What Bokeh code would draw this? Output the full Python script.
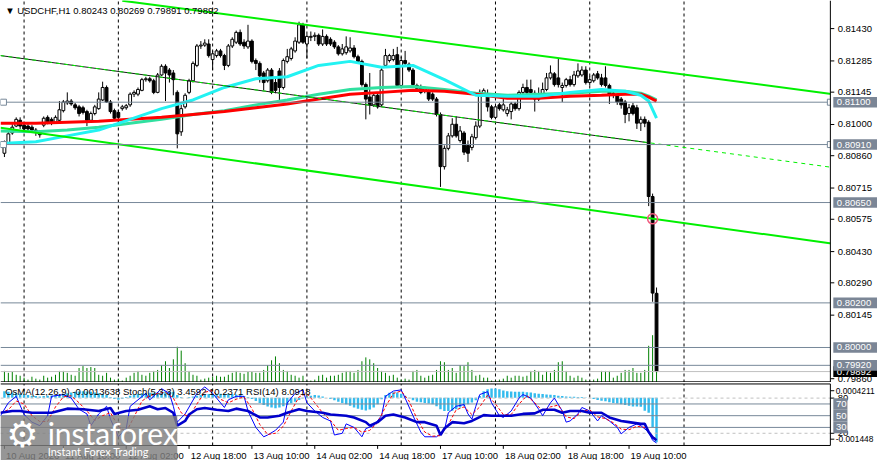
from bokeh.plotting import figure
from bokeh.models import Range1d
from bokeh.layouts import column
from bokeh.embed import file_html
from bokeh.resources import INLINE
from bokeh.core.properties import value

FONT = "Liberation Sans"

symbol = "USDCHF,H1"

opens = [
    0.80871, 0.80919, 0.80962, 0.80993, 0.81019, 0.80997, 0.80993, 0.80988, 0.80975, 0.80967,
    0.80997, 0.81032, 0.81023, 0.81010, 0.81019, 0.81062, 0.81097, 0.81105, 0.81088, 0.81079,
    0.81075, 0.81058, 0.81019, 0.81049, 0.81071, 0.81110, 0.81166, 0.81101, 0.81062, 0.81054,
    0.81071, 0.81075, 0.81088, 0.81136, 0.81136, 0.81153, 0.81201, 0.81205, 0.81196, 0.81144,
    0.81222, 0.81261, 0.81244, 0.81231, 0.81144, 0.80967, 0.81079, 0.81144, 0.81196, 0.81265,
    0.81352, 0.81356, 0.81361, 0.81291, 0.81309, 0.81330, 0.81309, 0.81265, 0.81352, 0.81369,
    0.81413, 0.81369, 0.81348, 0.81374, 0.81287, 0.81274, 0.81231, 0.81196, 0.81244, 0.81188,
    0.81240, 0.81166, 0.81283, 0.81296, 0.81330, 0.81369, 0.81447, 0.81361, 0.81391, 0.81395,
    0.81400, 0.81361, 0.81395, 0.81382, 0.81369, 0.81348, 0.81317, 0.81322, 0.81330, 0.81343,
    0.81304, 0.81283, 0.81179, 0.81123, 0.81088, 0.81131, 0.81088, 0.81265, 0.81287, 0.81291,
    0.81313, 0.81175, 0.81287, 0.81270, 0.81244, 0.81175, 0.81166, 0.81153, 0.81149, 0.81136,
    0.81114, 0.81045, 0.80811, 0.80893, 0.80949, 0.81001, 0.80928, 0.80962, 0.80906, 0.80897,
    0.80941, 0.80993, 0.81136, 0.81131, 0.81079, 0.81032, 0.81088, 0.81066, 0.81049, 0.81058,
    0.81092, 0.81071, 0.81144, 0.81166, 0.81157, 0.81140, 0.81114, 0.81136, 0.81157, 0.81209,
    0.81227, 0.81209, 0.81166, 0.81175, 0.81201, 0.81179, 0.81218, 0.81222, 0.81244, 0.81188,
    0.81196, 0.81227, 0.81209, 0.81209, 0.81175, 0.81140, 0.81131, 0.81114, 0.81101, 0.81049,
    0.81084, 0.81075, 0.81006, 0.81023, 0.81010, 0.80677, 0.80243]

highs = [
    0.80928, 0.80971, 0.81001, 0.81032, 0.81032, 0.81006, 0.81001, 0.80997, 0.80984, 0.80975,
    0.81036, 0.81041, 0.81032, 0.81041, 0.81105, 0.81110, 0.81144, 0.81114, 0.81097, 0.81088,
    0.81084, 0.81066, 0.81058, 0.81088, 0.81144, 0.81192, 0.81175, 0.81110, 0.81071, 0.81066,
    0.81088, 0.81092, 0.81144, 0.81153, 0.81166, 0.81209, 0.81214, 0.81214, 0.81205, 0.81231,
    0.81270, 0.81270, 0.81253, 0.81244, 0.81153, 0.81088, 0.81140, 0.81205, 0.81283, 0.81361,
    0.81374, 0.81382, 0.81382, 0.81330, 0.81339, 0.81339, 0.81317, 0.81361, 0.81391, 0.81421,
    0.81426, 0.81382, 0.81447, 0.81382, 0.81296, 0.81283, 0.81240, 0.81253, 0.81253, 0.81209,
    0.81253, 0.81296, 0.81339, 0.81348, 0.81391, 0.81461, 0.81456, 0.81404, 0.81417, 0.81413,
    0.81408, 0.81426, 0.81404, 0.81391, 0.81378, 0.81356, 0.81361, 0.81395, 0.81391, 0.81356,
    0.81313, 0.81291, 0.81188, 0.81231, 0.81140, 0.81140, 0.81253, 0.81339, 0.81317, 0.81339,
    0.81348, 0.81304, 0.81330, 0.81278, 0.81253, 0.81183, 0.81179, 0.81170, 0.81157, 0.81144,
    0.81123, 0.81054, 0.80906, 0.80962, 0.81028, 0.81036, 0.80993, 0.80971, 0.80928, 0.80958,
    0.81014, 0.81157, 0.81162, 0.81157, 0.81088, 0.81088, 0.81097, 0.81123, 0.81079, 0.81101,
    0.81101, 0.81153, 0.81183, 0.81201, 0.81201, 0.81153, 0.81166, 0.81188, 0.81231, 0.81265,
    0.81235, 0.81296, 0.81188, 0.81209, 0.81218, 0.81240, 0.81274, 0.81261, 0.81261, 0.81218,
    0.81231, 0.81240, 0.81227, 0.81261, 0.81183, 0.81149, 0.81140, 0.81123, 0.81110, 0.81092,
    0.81097, 0.81088, 0.81036, 0.81036, 0.81019, 0.80690, 0.80269]

lows = [
    0.80854, 0.80910, 0.80954, 0.80988, 0.80980, 0.80971, 0.80967, 0.80962, 0.80949, 0.80941,
    0.80988, 0.81001, 0.80997, 0.81006, 0.81010, 0.81054, 0.81088, 0.81084, 0.81066, 0.81036,
    0.81045, 0.80993, 0.81010, 0.81041, 0.81066, 0.81105, 0.81097, 0.81049, 0.81019, 0.81010,
    0.81062, 0.81066, 0.81079, 0.81123, 0.81127, 0.81149, 0.81192, 0.81188, 0.81136, 0.81140,
    0.81218, 0.81105, 0.81188, 0.81131, 0.80893, 0.80949, 0.81071, 0.81136, 0.81188, 0.81257,
    0.81339, 0.81348, 0.81300, 0.81244, 0.81300, 0.81300, 0.81244, 0.81257, 0.81343, 0.81361,
    0.81352, 0.81339, 0.81339, 0.81274, 0.81244, 0.81188, 0.81153, 0.81188, 0.81136, 0.81140,
    0.81110, 0.81157, 0.81274, 0.81287, 0.81322, 0.81361, 0.81361, 0.81296, 0.81374, 0.81374,
    0.81352, 0.81352, 0.81352, 0.81352, 0.81339, 0.81309, 0.81309, 0.81313, 0.81322, 0.81296,
    0.81274, 0.81170, 0.81023, 0.81045, 0.81079, 0.81071, 0.81079, 0.81257, 0.81278, 0.81283,
    0.81166, 0.81166, 0.81265, 0.81235, 0.81170, 0.81153, 0.81136, 0.81140, 0.81105, 0.81105,
    0.81036, 0.80720, 0.80798, 0.80884, 0.80941, 0.80941, 0.80919, 0.80863, 0.80832, 0.80884,
    0.80932, 0.80984, 0.81127, 0.81058, 0.81023, 0.81023, 0.81062, 0.81058, 0.81036, 0.81023,
    0.81062, 0.81062, 0.81136, 0.81136, 0.81136, 0.81058, 0.81105, 0.81127, 0.81149, 0.81201,
    0.81170, 0.81166, 0.81101, 0.81166, 0.81170, 0.81170, 0.81209, 0.81214, 0.81179, 0.81175,
    0.81188, 0.81201, 0.81170, 0.81166, 0.81092, 0.81118, 0.81088, 0.81071, 0.81006, 0.81014,
    0.81041, 0.80980, 0.80971, 0.80988, 0.80634, 0.80205, 0.79891]

closes = [
    0.80915, 0.80958, 0.80988, 0.81023, 0.80993, 0.80980, 0.80980, 0.80975, 0.80967, 0.80954,
    0.81028, 0.81006, 0.81006, 0.81032, 0.81066, 0.81101, 0.81105, 0.81092, 0.81075, 0.81049,
    0.81054, 0.81019, 0.81049, 0.81079, 0.81114, 0.81166, 0.81101, 0.81058, 0.81028, 0.81032,
    0.81079, 0.81084, 0.81136, 0.81144, 0.81157, 0.81201, 0.81205, 0.81196, 0.81144, 0.81222,
    0.81261, 0.81231, 0.81222, 0.81201, 0.80958, 0.81071, 0.81131, 0.81196, 0.81274, 0.81352,
    0.81356, 0.81365, 0.81309, 0.81317, 0.81330, 0.81309, 0.81265, 0.81352, 0.81382, 0.81413,
    0.81361, 0.81352, 0.81374, 0.81283, 0.81274, 0.81218, 0.81188, 0.81244, 0.81144, 0.81153,
    0.81166, 0.81287, 0.81304, 0.81339, 0.81374, 0.81447, 0.81369, 0.81395, 0.81395, 0.81400,
    0.81361, 0.81395, 0.81361, 0.81361, 0.81348, 0.81317, 0.81339, 0.81348, 0.81343, 0.81304,
    0.81283, 0.81179, 0.81114, 0.81088, 0.81131, 0.81079, 0.81244, 0.81309, 0.81309, 0.81309,
    0.81175, 0.81287, 0.81274, 0.81244, 0.81179, 0.81162, 0.81144, 0.81162, 0.81114, 0.81114,
    0.81045, 0.80811, 0.80893, 0.80949, 0.81001, 0.80949, 0.80971, 0.80876, 0.80871, 0.80945,
    0.80993, 0.81144, 0.81153, 0.81079, 0.81032, 0.81079, 0.81071, 0.81088, 0.81066, 0.81092,
    0.81071, 0.81144, 0.81166, 0.81144, 0.81144, 0.81114, 0.81136, 0.81157, 0.81209, 0.81231,
    0.81179, 0.81179, 0.81175, 0.81201, 0.81179, 0.81222, 0.81240, 0.81244, 0.81188, 0.81201,
    0.81222, 0.81209, 0.81179, 0.81175, 0.81136, 0.81131, 0.81101, 0.81088, 0.81045, 0.81075,
    0.81049, 0.81006, 0.81023, 0.81006, 0.80677, 0.80244, 0.79892]

volumes = [
    1200, 1000, 1100, 800, 700, 500, 300, 600, 400, 300,
    700, 500, 600, 800, 1200, 1200, 1000, 800, 700, 1500,
    1700, 1500, 1600, 1500, 800, 700, 1000, 500, 300, 400,
    200, 500, 700, 1000, 1200, 800, 700, 1000, 1200, 1300,
    1800, 2200, 1500, 2400, 3700, 3300, 2000, 1200, 800, 700,
    300, 400, 500, 600, 700, 600, 600, 800, 1000, 1200,
    1000, 900, 1100, 1100, 1000, 1000, 1300, 1800, 2300, 2700,
    2000, 1300, 1200, 800, 700, 500, 700, 200, 200, 300,
    700, 800, 500, 700, 700, 800, 1000, 1200, 1200, 1000,
    1300, 2200, 2600, 2400, 2000, 1500, 1200, 1000, 700,
    800, 500, 300, 400, 300, 1200, 1300, 700, 500, 700,
    800, 1300, 2200, 2100, 1300, 1500, 1000, 1800, 1700, 2100,
    1300, 700, 800, 500, 500, 200, 200, 300, 400, 700,
    500, 700, 700, 600, 700, 1200, 1300, 1200, 800, 1200,
    1000, 1300, 2100, 2200, 1200, 700, 500, 700, 500, 300,
    200, 300, 400, 1200, 1200, 1200, 500, 700, 1000, 1300,
    1300, 1500, 1000, 1000, 1300, 3800, 4900, 3500]

# moving averages at these bars
ma_bar = [-1, 8, 16, 24, 32, 40, 48, 56, 64, 72, 80, 88, 96, 104, 112, 120, 128, 136, 144, 152, 158, 162, 164, 166]
ma_fast = [0.80915, 0.80923, 0.80949, 0.80975, 0.81023, 0.81071, 0.81110, 0.81166, 0.81205, 0.81214, 0.81265, 0.81283,
           0.81257, 0.81265, 0.81201, 0.81131, 0.81127, 0.81127, 0.81144, 0.81157, 0.81149, 0.81131, 0.81105, 0.81028]
ma_mid = [0.80971, 0.80967, 0.80975, 0.80988, 0.81006, 0.81023, 0.81045, 0.81062, 0.81088, 0.81110, 0.81136, 0.81157,
          0.81166, 0.81170, 0.81157, 0.81140, 0.81131, 0.81136, 0.81140, 0.81149, 0.81149, 0.81140, 0.81127, 0.81110]
ma_slow = [0.81006, 0.81006, 0.81010, 0.81014, 0.81023, 0.81032, 0.81045, 0.81058, 0.81075, 0.81092, 0.81114, 0.81136,
           0.81144, 0.81153, 0.81149, 0.81136, 0.81118, 0.81118, 0.81127, 0.81131, 0.81136, 0.81136, 0.81123, 0.81105]

# trend lines (bar, price end points)
upper_bar = [30, 211]
upper_price = [0.81555, 0.81136]
lower_bar = [-1, 211]
lower_price = [0.80985, 0.80465]
mid_bar = [-1, 211]
mid_price = [0.81309, 0.80807]
mid_solid_bar = [-1, 164]
mid_solid_price = [0.81309, 0.80918]

level_prices = [0.81100, 0.80910, 0.80650, 0.80200, 0.80000, 0.79920]
anchor_levels = [0.81100, 0.80910]
alert_bar = [165]
alert_price = [0.80577]

price_ticks = [0.81430, 0.81285, 0.81145, 0.81000, 0.80860, 0.80715, 0.80575, 0.80430, 0.80290, 0.80145, 0.79860]
sep_bars = [5, 29, 53, 77, 101, 125, 149, 173]
xlab_bars = [0, 15, 31, 47, 63, 79, 95, 111, 127, 143, 159]
xlab_text = ["10 Aug 2026", "11 Aug 10:00", "12 Aug 02:00", "12 Aug 18:00", "13 Aug 10:00", "14 Aug 02:00",
             "14 Aug 18:00", "17 Aug 10:00", "18 Aug 02:00", "18 Aug 18:00", "19 Aug 10:00"]

osma = [
    0.00020, 0.00018, 0.00016, 0.00014, 0.00012,
    0.00010, 0.00008, 0.00006, 0.00005, 0.00004, 0.00005, 0.00006, 0.00007, 0.00008, 0.00010, 0.00012,
    0.00014, 0.00016, 0.00018, 0.00019, 0.00020, 0.00019, 0.00018, 0.00016, 0.00014, 0.00012, 0.00008,
    0.00002, -0.00004, -0.00006,
    -0.00003, 0.00002, 0.00006, 0.00009, 0.00011, 0.00013, 0.00014, 0.00015, 0.00015, 0.00016,
    0.00018, 0.00020, 0.00020, 0.00018,
    0.00008, 0.00002,
    0.00000, 0.00002, 0.00004, 0.00006, 0.00008, 0.00010, 0.00011, 0.00012, 0.00012, 0.00012,
    0.00012, 0.00012, 0.00011, 0.00010, 0.00008, 0.00005, 0.00002,
    -0.00004, -0.00010, -0.00016, -0.00022, -0.00027, -0.00030, -0.00032, -0.00030,
    -0.00026, -0.00022, -0.00017, -0.00012, -0.00007, -0.00002,
    0.00003, 0.00006, 0.00008, 0.00007, 0.00004,
    0.00000, -0.00004, -0.00008, -0.00012, -0.00016, -0.00020, -0.00025, -0.00030, -0.00034, -0.00037,
    -0.00039, -0.00036, -0.00030, -0.00020,
    -0.00005, 0.00008, 0.00015,
    0.00017, 0.00016, 0.00012, 0.00006,
    -0.00002, -0.00008, -0.00012, -0.00014, -0.00016, -0.00018, -0.00020, -0.00026, -0.00035, -0.00041,
    -0.00041, -0.00040, -0.00035, -0.00030, -0.00025, -0.00020, -0.00015, -0.00008,
    0.00005,
    0.00020, 0.00026, 0.00028, 0.00028, 0.00026,
    0.00022, 0.00020, 0.00019, 0.00018, 0.00018, 0.00018, 0.00017, 0.00016,
    0.00014, 0.00012, 0.00011, 0.00010, 0.00009, 0.00008,
    0.00006, 0.00005, 0.00004, 0.00003, 0.00003, 0.00002, 0.00002, 0.00001, 0.00000,
    -0.00004, -0.00007, -0.00009, -0.00011,
    -0.00014, -0.00016, -0.00018, -0.00020,
    -0.00022, -0.00025, -0.00027, -0.00027, -0.00028,
    -0.00040, -0.00046,
    -0.00090, -0.0013638]
osma_max = 0.0004211
osma_min = -0.001448

k_bar = [-1, 1, 3, 5, 7, 9, 11, 12, 15, 17, 19, 21, 22, 24, 26, 27, 29, 31, 32, 34,
         36, 37, 40, 42, 43, 44, 46, 49, 51, 53, 56, 57, 59, 61, 62, 64, 66, 67, 69, 71,
         72, 74, 76, 77, 79, 81, 83, 84, 86, 87, 89, 91, 92, 94, 96, 97, 99, 101, 102, 104,
         106, 107, 110, 112, 113, 115, 117, 118, 119, 120, 121, 123, 124, 126, 127, 129, 131, 132, 134, 136,
         137, 139, 140, 142, 143, 144, 146, 147, 149, 151, 152, 154, 156, 157, 159, 161, 162, 164, 165, 166]
k_val = [50, 72, 83, 52, 39, 33, 50, 83, 86, 80, 61, 53, 33, 53, 66, 44, 14, 28, 66, 77,
         88, 77, 96, 88, 66, 39, 53, 88, 99, 88, 64, 77, 83, 83, 58, 30, 14, 17, 25, 39,
         72, 88, 94, 72, 58, 47, 41, 17, 20, 36, 30, 14, 28, 33, 50, 83, 92, 94, 80, 50,
         22, 14, 14, 25, 55, 66, 69, 53, 44, 66, 86, 91, 72, 50, 47, 58, 80, 86, 80, 61,
         50, 72, 80, 58, 39, 41, 53, 64, 58, 41, 50, 41, 30, 19, 30, 36, 33, 22, 8, 3.4592]
d_bar = [-1, 1, 3, 5, 7, 9, 11, 13, 15, 17, 19, 21, 23, 25, 27, 29, 31, 33, 35, 37,
         39, 41, 43, 45, 47, 49, 51, 53, 55, 57, 59, 61, 63, 65, 67, 69, 71, 73, 75, 77,
         79, 81, 83, 85, 87, 89, 91, 93, 95, 97, 99, 101, 103, 105, 107, 109, 111, 113, 115, 117,
         119, 121, 123, 125, 127, 129, 131, 133, 135, 137, 139, 141, 143, 145, 147, 149, 151, 153, 155, 157,
         159, 161, 163, 165, 166]
d_val = [55, 60, 75, 70, 50, 40, 40, 65, 82, 84, 72, 58, 42, 50, 55, 32, 22, 48, 75, 84,
         88, 90, 80, 55, 48, 70, 90, 93, 78, 72, 78, 82, 62, 35, 18, 20, 32, 58, 82, 88,
         72, 55, 42, 25, 28, 30, 22, 25, 38, 65, 88, 92, 75, 45, 22, 15, 16, 35, 60, 65,
         52, 65, 85, 70, 52, 52, 70, 84, 72, 58, 65, 68, 48, 45, 58, 60, 48, 45, 38, 27,
         26, 32, 30, 15, 10.2371]
rsi_bar = [-1, 2, 4, 7, 12, 16, 20, 24, 27, 28, 31, 34, 37, 39, 41, 43, 44, 46, 47, 49,
           51, 54, 57, 59, 62, 65, 67, 70, 72, 75, 77, 81, 83, 87, 89, 92, 93, 95, 97, 99,
           102, 105, 107, 110, 111, 112, 114, 117, 119, 122, 124, 127, 129, 132, 135, 137, 140, 142, 144, 147,
           149, 152, 154, 157, 159, 162, 163, 164, 165, 166]
rsi_val = [55, 58, 58, 55, 55, 62, 61, 58, 63, 53, 58, 60, 66, 61, 63, 55, 33, 41, 52, 61,
           63, 60, 58, 62, 58, 47, 47, 50, 55, 61, 58, 55, 52, 50, 47, 39, 33, 39, 50, 52,
           47, 39, 39, 33, 17, 28, 39, 37, 41, 51, 50, 50, 50, 53, 54, 60, 60, 55, 58, 58,
           55, 55, 47, 41, 39, 36, 36, 22, 13, 8.0918]
stoch_levels = [80, 20]
rsi_levels = [70, 50, 30]

# ---------------------------------------------------------------- layout constants (MT4 window)
CH_L, CH_R, ST_R = -1.0, 210.25, 222.25        # chart left / chart right / right strip end (bars)
TICK_X, LAB_X, BOX_X = 211.25, 212.1, 211.0
P_TOP, P_BOT = 0.81556, 0.79843                 # price window
REF_H = 395.5                                   # px of reference covered by main window
ppx = (P_TOP - P_BOT) / REF_H                   # price per reference pixel
V_TOP, V_BOT = 106.6, -26.45                    # sub window (0..100 scale) incl. date strip
vpx = 1 / 0.605
SUB_TOP, SUB_BOT = 104.1, -0.83
o_px = (osma_max - osma_min) / 63.0
O_TOP, O_BOT = osma_max + 1.5 * o_px, osma_min - 16.0 * o_px

txt = dict(text_font=value(FONT), text_font_size="9.5px", text_baseline="middle", text_align="left")

bars = list(range(len(closes)))
body_fill = ["white" if c >= o else "black" for o, c in zip(opens, closes)]

# ---------------------------------------------------------------- main window
xr = Range1d(CH_L, ST_R)
p1 = figure(frame_width=877, frame_height=382, x_range=xr, y_range=Range1d(P_BOT, P_TOP),
            output_backend="svg", toolbar_location=None, x_axis_location=None,
            y_axis_location=None, min_border=0, outline_line_color=None,
            background_fill_color="white", border_fill_color="white")
p1.grid.visible = False
p1.extra_y_ranges = {"vol": Range1d(0, 100 * REF_H)}

n_sep = len(sep_bars)
p1.segment(x0=sep_bars, y0=[P_BOT] * n_sep, x1=sep_bars, y1=[P_TOP] * n_sep,
           line_color="black", line_dash="3 3", line_width=1)

p1.segment(x0=bars, y0=[0] * len(bars), x1=bars, y1=volumes, y_range_name="vol",
           line_color="#008000", line_width=1)
p1.segment(x0=bars, y0=lows, x1=bars, y1=highs, line_color="black", line_width=1)
p1.vbar(x=bars, width=0.72, top=opens, bottom=closes, fill_color=body_fill,
        line_color="black", line_width=1)

p1.line(ma_bar, ma_mid, line_color="#30E0A0", line_width=3)
p1.line(ma_bar, ma_slow, line_color="#FF0000", line_width=3)
p1.line(ma_bar, ma_fast, line_color="#22F2F2", line_width=3)

p1.line(upper_bar, upper_price, line_color="#00F000", line_width=2)
p1.line(lower_bar, lower_price, line_color="#00F000", line_width=2)
p1.line(mid_solid_bar, mid_solid_price, line_color="#1a1a1a", line_width=1)
p1.line(mid_bar, mid_price, line_color="#00F000", line_width=1, line_dash="4 4")

n_lv = len(level_prices)
p1.segment(x0=[CH_L] * n_lv, y0=level_prices, x1=[CH_R] * n_lv, y1=level_prices,
           line_color="#778899", line_width=1)
p1.segment(x0=[CH_L], y0=[closes[-1]], x1=[CH_R], y1=[closes[-1]], line_color="#C0C0C0", line_width=1)
for lv in anchor_levels:
    p1.scatter([CH_L + 0.75, CH_R], [lv, lv], marker="square", size=6, fill_color="white",
               line_color="#778899", line_width=1)
p1.scatter(alert_bar, alert_price, marker="circle", size=10, fill_color=None,
           line_color="#F05A7E", line_width=1.5)

# price scale strip
p1.quad(left=[CH_R], right=[ST_R], bottom=[P_BOT], top=[P_TOP], fill_color="white", line_color=None)
p1.segment(x0=[CH_R], y0=[P_BOT], x1=[CH_R], y1=[P_TOP], line_color="black", line_width=1)
p1.segment(x0=[CH_L], y0=[P_BOT + 0.7 * ppx], x1=[CH_R], y1=[P_BOT + 0.7 * ppx],
           line_color="black", line_width=1)
n_t = len(price_ticks)
p1.segment(x0=[CH_R] * n_t, y0=price_ticks, x1=[TICK_X] * n_t, y1=price_ticks, line_color="black")
p1.text(x=[LAB_X] * n_t, y=price_ticks, text=[f"{t:.5f}" for t in price_ticks], text_color="black", **txt)

box_h = 5.5 * ppx
# current price box first, level boxes drawn over it (as in the terminal)
p1.quad(left=[BOX_X], right=[ST_R], bottom=[closes[-1] - box_h], top=[closes[-1] + box_h],
        fill_color="black", line_color=None)
p1.text(x=[LAB_X - 0.2], y=[closes[-1]], text=[f"{closes[-1]:.5f}"], text_color="white", **txt)
p1.quad(left=[BOX_X] * n_lv, right=[ST_R] * n_lv, bottom=[lv - box_h for lv in level_prices],
        top=[lv + box_h for lv in level_prices], fill_color="#7B8696", line_color=None)
p1.text(x=[LAB_X - 0.2] * n_lv, y=level_prices, text=[f"{lv:.5f}" for lv in level_prices],
        text_color="white", **txt)

header = f"\u25BC {symbol}  {opens[-1]:.5f} {highs[-1]:.5f} {lows[-1]:.5f} {closes[-1]:.5f}"
p1.text(x=[CH_L + 1.2], y=[P_TOP - 10 * ppx], text=[header], text_color="black", **txt)

# ---------------------------------------------------------------- sub window + date strip
p2 = figure(frame_width=877, frame_height=78, x_range=xr, y_range=Range1d(V_BOT, V_TOP),
            output_backend="svg", toolbar_location=None, x_axis_location=None,
            y_axis_location=None, min_border=0, outline_line_color=None,
            background_fill_color="white", border_fill_color="white")
p2.grid.visible = False
p2.extra_y_ranges = {"osma": Range1d(O_BOT, O_TOP)}

p2.segment(x0=sep_bars, y0=[SUB_BOT] * n_sep, x1=sep_bars, y1=[SUB_TOP] * n_sep,
           line_color="black", line_dash="3 3", line_width=1)
p2.vbar(x=bars, width=0.62, top=osma, bottom=0, y_range_name="osma",
        fill_color="#33BBEE", line_color=None)
n_s, n_r = len(stoch_levels), len(rsi_levels)
p2.segment(x0=[CH_L] * n_s, y0=stoch_levels, x1=[CH_R] * n_s, y1=stoch_levels,
           line_color="#C0C0C0", line_dash="3 3", line_width=1)
p2.segment(x0=[CH_L] * n_r, y0=rsi_levels, x1=[CH_R] * n_r, y1=rsi_levels,
           line_color="#778899", line_width=1)

p2.line(k_bar, k_val, line_color="#0000FF", line_width=1)
p2.line(d_bar, d_val, line_color="#FF0000", line_width=1, line_dash="3 2")
p2.line(rsi_bar, rsi_val, line_color="#0000CC", line_width=2.6)

# frame of sub window
p2.quad(left=[CH_R], right=[ST_R], bottom=[V_BOT], top=[V_TOP], fill_color="white", line_color=None)
p2.quad(left=[CH_L], right=[CH_R], bottom=[V_BOT], top=[SUB_BOT], fill_color="white", line_color=None)
p2.segment(x0=[CH_L, CH_L, CH_R], y0=[SUB_TOP, SUB_BOT, SUB_BOT], x1=[CH_R, CH_R, CH_R],
           y1=[SUB_TOP, SUB_BOT, SUB_TOP], line_color="black", line_width=1)

legend = (f"OsMA(12,26,9) {osma[-1]:.7f}  Stoch(5,3,3) {k_val[-1]:.4f} {d_val[-1]:.4f}  "
          f"RSI(14) {rsi_val[-1]:.4f}")
p2.text(x=[CH_L + 1.2], y=[91], text=[legend], text_color="black", **txt)

# right scale of sub window
sub_ticks = [(460 - 404) / 0.605, 80, 20, (460 - 454) / 0.605]
p2.segment(x0=[CH_R] * 4, y0=sub_ticks, x1=[TICK_X] * 4, y1=sub_ticks, line_color="black")
p2.text(x=[LAB_X, LAB_X], y=[80, 20], text=["80", "20"], text_color="black", **txt)
small = dict(txt, text_font_size="8.4px")
p2.text(x=[LAB_X - 0.5, LAB_X - 0.5], y=[sub_ticks[0], sub_ticks[3]],
        text=[f"{osma_max:.7f}", f"{osma_min:.6f}"], text_color="black", **small)
bh = 6.0 * vpx
p2.quad(left=[BOX_X] * n_r, right=[BOX_X + 3.6] * n_r, bottom=[v - bh for v in rsi_levels],
        top=[v + bh for v in rsi_levels], fill_color="#7B8696", line_color=None)
p2.text(x=[LAB_X - 0.4] * n_r, y=rsi_levels, text=[str(v) for v in rsi_levels],
        text_color="white", **txt)

# date scale
n_x = len(xlab_bars)
p2.segment(x0=xlab_bars, y0=[SUB_BOT] * n_x, x1=xlab_bars, y1=[SUB_BOT - 3.5 * vpx] * n_x,
           line_color="black")
p2.text(x=[b + 0.4 for b in xlab_bars], y=[SUB_BOT - 10.2 * vpx] * n_x, text=xlab_text,
        text_color="black", **txt)

# watermark
p2.quad(left=[CH_L], right=[44], bottom=[V_BOT], top=[(460 - 430) * vpx], fill_color="#7F7F7F",
        fill_alpha=0.82, line_color=None)
p2.text(x=[4.6], y=[(460 - 449) * vpx], text=["\u2699"], text_font=value("DejaVu Sans"),
        text_font_size="36px", text_color="white", text_baseline="middle", text_align="center")
p2.text(x=[11], y=[(460 - 448) * vpx], text=["instaforex"], text_font=value("Lato"),
        text_font_size="30px", text_color="white", text_baseline="middle", text_align="left")
p2.text(x=[11], y=[(460 - 466.5) * vpx], text=["Instant Forex Trading"], text_font=value("Lato"),
        text_font_size="11px", text_color="white", text_baseline="middle", text_align="left")

layout = column(p1, p2, spacing=0)
open("out.html", "w").write(file_html(layout, INLINE))
